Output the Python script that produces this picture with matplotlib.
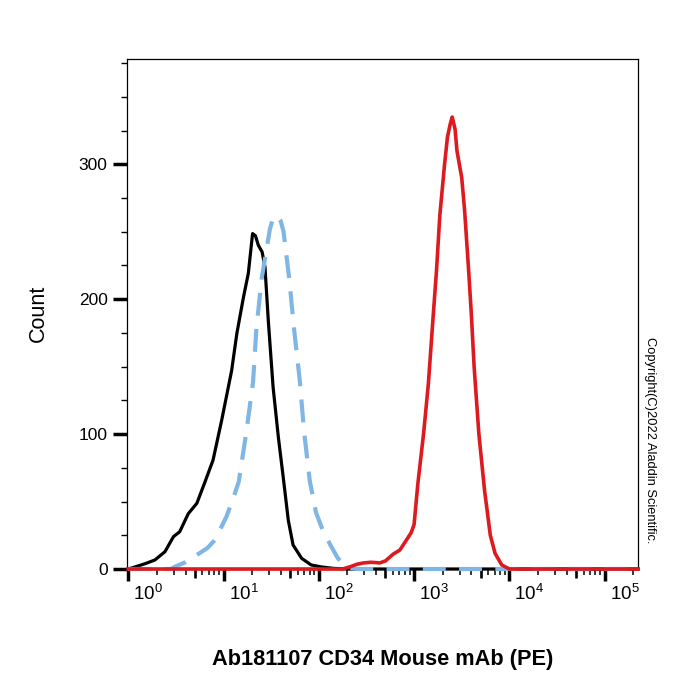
import numpy as np
import matplotlib
matplotlib.use("Agg")
import matplotlib.pyplot as plt
from matplotlib.transforms import ScaledTranslation

plt.rcParams['font.family'] = ['Liberation Sans', 'DejaVu Sans']
plt.rcParams['mathtext.fontset'] = 'custom'
plt.rcParams['mathtext.rm'] = 'Liberation Sans'
plt.rcParams['mathtext.it'] = 'Liberation Sans:italic'
plt.rcParams['mathtext.bf'] = 'Liberation Sans:bold'

# ---- data (x in log10 of PE intensity, y = count) ----
isotype_log_x = [0.00, 0.07, 0.18, 0.28, 0.385, 0.475, 0.54, 0.63, 0.72, 0.80, 0.89, 0.98,
                 1.03, 1.085, 1.14, 1.21, 1.26, 1.305, 1.335, 1.365, 1.405, 1.435, 1.47,
                 1.52, 1.575, 1.63, 1.68, 1.73, 1.82, 1.92, 2.03, 2.15, 2.30, 5.35]
isotype_count = [0, 1.5, 4, 6.7, 12.8, 24, 27.6, 41, 48.7, 63.5, 80.7, 110,
                 127.6, 147, 174.6, 201.7, 219, 248.6, 247, 240, 235, 224, 184,
                 135, 98, 66, 36, 17.8, 7.9, 3, 1.5, 0.5, 0, 0]

blank_log_x = [0.00, 0.45, 0.49, 0.60, 0.72, 0.83, 0.91, 1.03, 1.10, 1.16, 1.24, 1.31,
               1.345, 1.40, 1.487, 1.52, 1.56, 1.60, 1.63, 1.69, 1.74, 1.80, 1.845,
               1.906, 1.97, 2.04, 2.12, 2.20, 2.30, 2.40, 5.35]
blank_count = [0, 0, 1.7, 5, 10.4, 15.5, 21.5, 38.7, 52, 64.7, 101.7, 138.7,
               178, 215, 252, 260, 262, 258, 250, 215, 178, 140, 102,
               65, 42, 29, 18, 8, 1, 0, 0]

cd34_log_x = [0.00, 2.25, 2.33, 2.40, 2.47, 2.55, 2.64, 2.70, 2.78, 2.85, 2.92, 2.97,
              3.00, 3.04, 3.10, 3.15, 3.20, 3.236, 3.27, 3.32, 3.35, 3.38, 3.40,
              3.43, 3.45, 3.50, 3.53, 3.57, 3.60, 3.63, 3.68, 3.74, 3.80, 3.85,
              3.92, 4.00, 5.35]
cd34_count = [0, 0, 1.7, 3.5, 4.5, 5, 4.5, 6, 11, 14, 21.5, 27,
              33, 63.5, 100.5, 137.5, 187, 222, 262, 300, 320, 330, 335,
              326, 310, 290, 266, 224, 190, 150, 100, 58, 25, 11.6,
              3, 0, 0]

x_major_exponents = [0, 1, 2, 3, 4, 5]
y_major_ticks = [0, 100, 200, 300]

x_label = "Ab181107 CD34 Mouse mAb (PE)"
y_label = "Count"
copyright_text = "Copyright(C)2022 Aladdin Scientific."

# ---- figure ----
fig = plt.figure(figsize=(7, 7), dpi=100)
ax = fig.add_axes([127/700, 1 - 569/700, (638-127)/700, (569-59)/700])

ax.plot(np.power(10.0, isotype_log_x), isotype_count, color='black', lw=2.3,
        clip_on=False, zorder=3, solid_joinstyle='round')
ax.plot(np.power(10.0, blank_log_x), blank_count, color='#7fb6e4', lw=3.0,
        dashes=(5.5, 3.2), clip_on=False, zorder=4)
ax.plot(np.power(10.0, cd34_log_x), cd34_count, color='#dd1a1f', lw=2.6,
        clip_on=False, zorder=5, solid_joinstyle='round')

ax.set_xscale('log')
ax.set_xlim(10 ** -0.013, 10 ** 5.35)
ax.set_ylim(0, 378)

# x ticks
ax.set_xticks([10.0 ** e for e in x_major_exponents])
ax.set_xticklabels([r'$\mathregular{10^{%d}}$' % e for e in x_major_exponents])
minor = [m * 10.0 ** e for e in range(0, 6) for m in (2, 3, 4, 6, 7, 8, 9)]
minor = [v for v in minor if v < 10 ** 5.35]
ax.set_xticks(minor, minor=True)
ax.tick_params(axis='x', which='major', direction='out', length=8.5, width=2.5,
               labelsize=13.5, pad=2)
ax.tick_params(axis='x', which='minor', direction='out', length=4.5, width=1.1)
offset = ScaledTranslation(0.20, 0, fig.dpi_scale_trans)
for lab in ax.get_xticklabels():
    lab.set_transform(lab.get_transform() + offset)

sec = ax.secondary_xaxis('bottom')
sec.set_xticks([5 * 10.0 ** e for e in range(0, 5)])
sec.set_xticks([], minor=True)
sec.set_xticklabels([])
sec.tick_params(axis='x', direction='out', length=6.5, width=1.9)
sec.spines['bottom'].set_visible(False)

# y ticks
ax.set_yticks(y_major_ticks)
ax.set_yticks([25 * i for i in range(0, 16) if (25 * i) % 100 != 0], minor=True)
ax.tick_params(axis='y', which='major', direction='out', length=10, width=2.5,
               labelsize=12.5, pad=4)
ax.tick_params(axis='y', which='minor', direction='out', length=4.3, width=1.0)

for s in ax.spines.values():
    s.set_linewidth(0.9)
    s.set_color('black')

fig.text(38/700, 1 - 313/700, y_label, rotation=90, ha='center', va='center',
         fontsize=15.5)
fig.text(383/700, 1 - 659/700, x_label, ha='center', va='center',
         fontsize=15.7, fontweight='bold')
fig.text(650/700, 1 - 440/700, copyright_text, rotation=-90, ha='center',
         va='center', fontsize=9.3)

fig.savefig('out.png', dpi=100)
